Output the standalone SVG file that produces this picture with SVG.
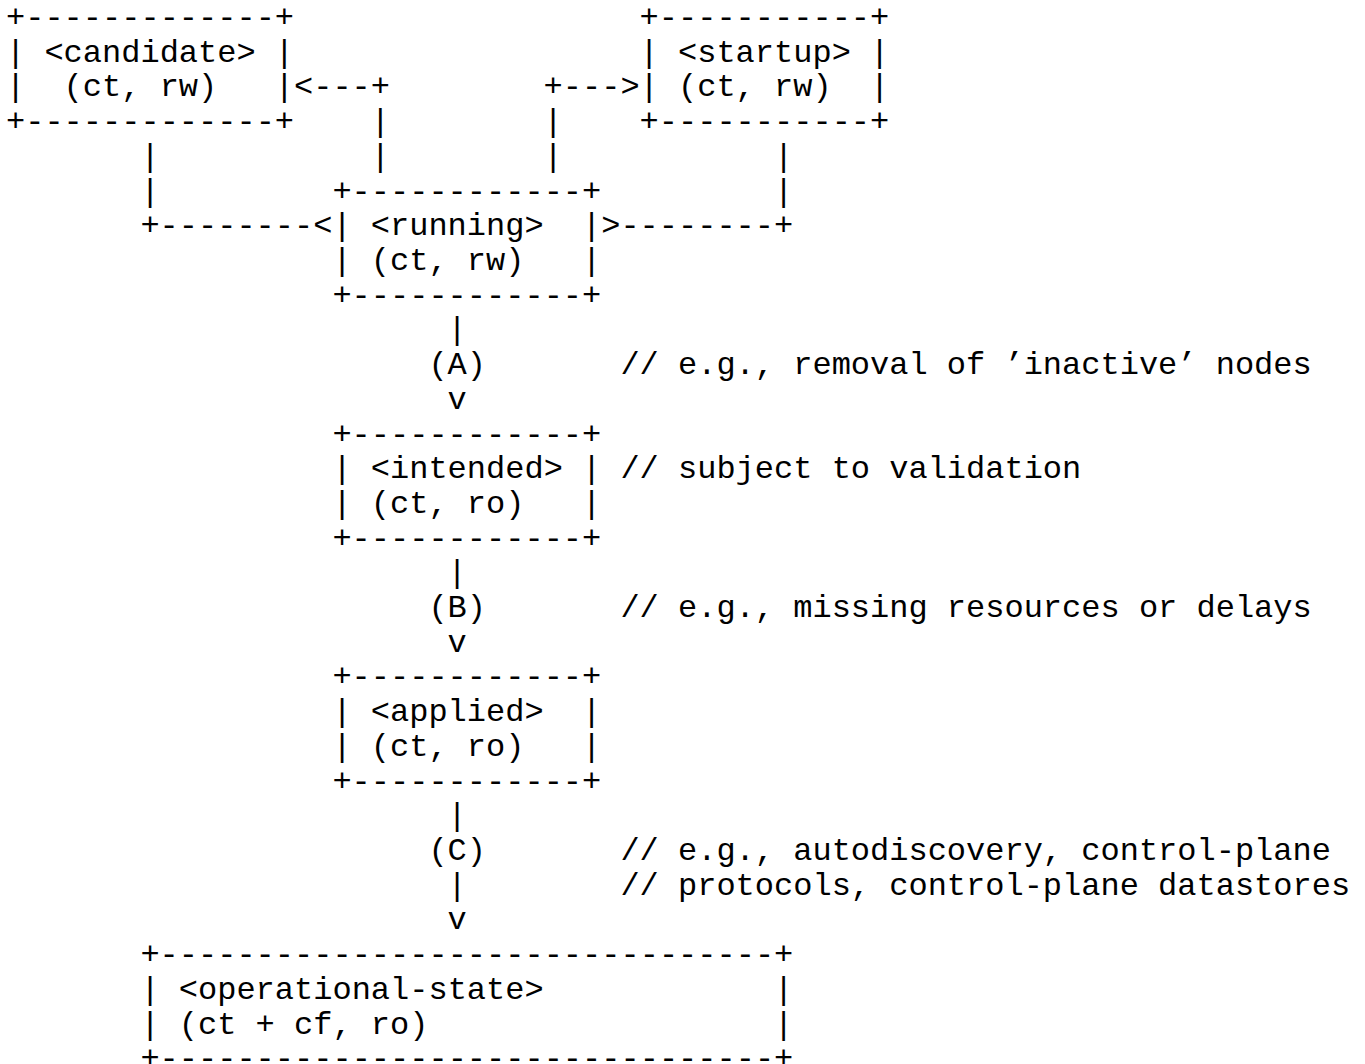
<svg xmlns="http://www.w3.org/2000/svg" width="1365" height="1064" viewBox="0 0 1365 1064">
<style>
text { font-family: "Liberation Mono", "Courier New", monospace; font-size: 32px; fill: #000; white-space: pre; }
</style>
<rect width="1365" height="1064" fill="#fff"/>
<g id="node-candidate">
<text x="6" y="27" xml:space="preserve">+-------------+</text>
<text x="6" y="61.71" xml:space="preserve">| &lt;candidate&gt; |</text>
<text x="6" y="96.42" xml:space="preserve">|  (ct, rw)   |</text>
<text x="6" y="131.13" xml:space="preserve">+-------------+</text>
</g>
<g id="node-startup">
<text x="639.6" y="27" xml:space="preserve">+-----------+</text>
<text x="639.6" y="61.71" xml:space="preserve">| &lt;startup&gt; |</text>
<text x="639.6" y="96.42" xml:space="preserve">| (ct, rw)  |</text>
<text x="639.6" y="131.13" xml:space="preserve">+-----------+</text>
</g>
<g id="node-running">
<text x="332.4" y="200.55" xml:space="preserve">+------------+</text>
<text x="332.4" y="235.26" xml:space="preserve">| &lt;running&gt;  |</text>
<text x="332.4" y="269.97" xml:space="preserve">| (ct, rw)   |</text>
<text x="332.4" y="304.68" xml:space="preserve">+------------+</text>
</g>
<g id="node-intended">
<text x="332.4" y="443.52" xml:space="preserve">+------------+</text>
<text x="332.4" y="478.23" xml:space="preserve">| &lt;intended&gt; |</text>
<text x="332.4" y="512.94" xml:space="preserve">| (ct, ro)   |</text>
<text x="332.4" y="547.65" xml:space="preserve">+------------+</text>
</g>
<g id="node-applied">
<text x="332.4" y="686.49" xml:space="preserve">+------------+</text>
<text x="332.4" y="721.2" xml:space="preserve">| &lt;applied&gt;  |</text>
<text x="332.4" y="755.91" xml:space="preserve">| (ct, ro)   |</text>
<text x="332.4" y="790.62" xml:space="preserve">+------------+</text>
</g>
<g id="node-operational-state">
<text x="140.4" y="964.17" xml:space="preserve">+--------------------------------+</text>
<text x="140.4" y="998.88" xml:space="preserve">| &lt;operational-state&gt;            |</text>
<text x="140.4" y="1033.59" xml:space="preserve">| (ct + cf, ro)                  |</text>
<text x="140.4" y="1068.3" xml:space="preserve">+--------------------------------+</text>
</g>
<g id="connectors">
<text x="294" y="96.42" xml:space="preserve">&lt;---+</text>
<text x="543.6" y="96.42" xml:space="preserve">+---&gt;</text>
<text x="370.8" y="131.13">|</text>
<text x="543.6" y="131.13">|</text>
<text x="140.4" y="165.84">|</text>
<text x="370.8" y="165.84">|</text>
<text x="543.6" y="165.84">|</text>
<text x="774" y="165.84">|</text>
<text x="140.4" y="200.55">|</text>
<text x="774" y="200.55">|</text>
<text x="140.4" y="235.26" xml:space="preserve">+--------&lt;</text>
<text x="601.2" y="235.26" xml:space="preserve">&gt;--------+</text>
<text x="447.6" y="339.39">|</text>
<text x="428.4" y="374.1">(A)</text>
<text x="447.6" y="408.81">v</text>
<text x="447.6" y="582.36">|</text>
<text x="428.4" y="617.07">(B)</text>
<text x="447.6" y="651.78">v</text>
<text x="447.6" y="825.33">|</text>
<text x="428.4" y="860.04">(C)</text>
<text x="447.6" y="894.75">|</text>
<text x="447.6" y="929.46">v</text>
</g>
<g id="notes">
<text x="620.4" y="374.1" xml:space="preserve">// e.g., removal of ’inactive’ nodes</text>
<text x="620.4" y="478.23" xml:space="preserve">// subject to validation</text>
<text x="620.4" y="617.07" xml:space="preserve">// e.g., missing resources or delays</text>
<text x="620.4" y="860.04" xml:space="preserve">// e.g., autodiscovery, control-plane</text>
<text x="620.4" y="894.75" xml:space="preserve">// protocols, control-plane datastores</text>
</g>
</svg>
